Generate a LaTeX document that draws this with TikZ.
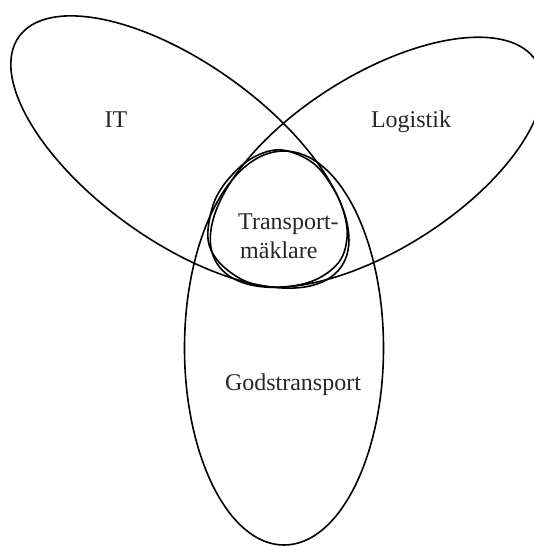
\documentclass[tikz,border=0pt]{standalone}
\usepackage{fontspec}
\setmainfont{Liberation Serif}
\begin{document}
\begin{tikzpicture}[x=1pt,y=-1pt,
  shape line/.style={draw=black,line width=1.6pt},
  lbl/.style={inner sep=0pt,font=\fontsize{24}{28}\selectfont,text=black!85}]
\useasboundingbox (0,0) rectangle (534,546);
% Godstransport
\draw[shape line] (284,348) ellipse [x radius=99.5, y radius=197];
% IT
\draw[shape line,rotate around={-35.64:(179.9,152)}] (179.9,152) ellipse [x radius=198, y radius=88.9];
% Logistik
\draw[shape line,rotate around={32.38:(376.6,162.3)}] (376.6,162.3) ellipse [x radius=189, y radius=87];
% Transportmaklare
\draw[shape line] plot[smooth cycle,tension=0.6] coordinates {
  (282,150) (313,163) (333,188) (344,213) (347,238) (339,262) (315,280)
  (282,287) (250,283) (225,268) (211,250) (208,230) (215,200) (231,176)
  (254,157)};
\node[lbl,anchor=base] (it) at (116,127) {IT};
\node[lbl,anchor=base] (log) at (411,127) {Logistik};
\node[lbl,anchor=base west] (tm1) at (238,229) {Transport-};
\node[lbl,anchor=base west] (tm2) at (240,258) {mäklare};
\node[lbl,anchor=base] (gods) at (293,390) {Godstransport};
\end{tikzpicture}
\end{document}
